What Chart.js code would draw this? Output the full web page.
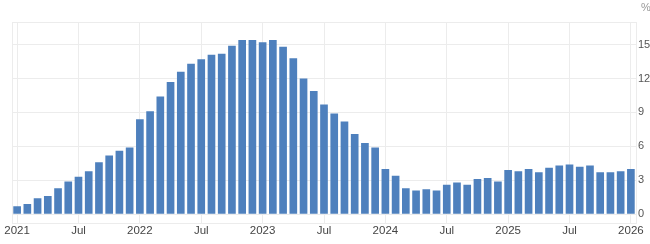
<!DOCTYPE html>
<html>
<head>
<meta charset="utf-8">
<script src="https://cdn.jsdelivr.net/npm/chart.js@4.4.1/dist/chart.umd.min.js"></script>
<style>
  html, body { margin: 0; padding: 0; background: #fff; }
  #wrap { width: 650px; height: 244px; }
</style>
</head>
<body>
<div id="wrap"><canvas id="chart"></canvas></div>
<script>
const months = [
    "2021-01","2021-02","2021-03","2021-04","2021-05","2021-06","2021-07","2021-08","2021-09","2021-10","2021-11","2021-12",
    "2022-01","2022-02","2022-03","2022-04","2022-05","2022-06","2022-07","2022-08","2022-09","2022-10","2022-11","2022-12",
    "2023-01","2023-02","2023-03","2023-04","2023-05","2023-06","2023-07","2023-08","2023-09","2023-10","2023-11","2023-12",
    "2024-01","2024-02","2024-03","2024-04","2024-05","2024-06","2024-07","2024-08","2024-09","2024-10","2024-11","2024-12",
    "2025-01","2025-02","2025-03","2025-04","2025-05","2025-06","2025-07","2025-08","2025-09","2025-10","2025-11","2025-12",
    "2026-01"
];
const rates = [
    0.7, 0.9, 1.4, 1.6, 2.3, 2.9, 3.3, 3.8, 4.6, 5.2, 5.6, 5.9,
    8.4, 9.1, 10.4, 11.7, 12.6, 13.3, 13.7, 14.1, 14.2, 14.9, 15.4, 15.4,
    15.2, 15.4, 14.8, 13.8, 12.0, 10.9, 9.7, 8.9, 8.2, 7.1, 6.3, 5.9,
    4.0, 3.4, 2.3, 2.1, 2.2, 2.1, 2.6, 2.8, 2.6, 3.1, 3.2, 2.9,
    3.9, 3.8, 4.0, 3.7, 4.1, 4.3, 4.4, 4.2, 4.3, 3.7, 3.7, 3.8,
    4.0
];
const yTicks = [0, 3, 6, 9, 12, 15];

const frame = {
    id: "frame",
    beforeDatasetsDraw(chart) {
        const { ctx, chartArea: a } = chart;
        ctx.save();
        ctx.strokeStyle = "#ececec";
        ctx.lineWidth = 1;
        ctx.strokeRect(Math.round(a.left) + 0.5, Math.round(a.top) + 0.5,
            Math.round(a.right - a.left), Math.round(a.bottom - a.top));
        ctx.restore();
    },
    afterDraw(chart) {
        const ctx = chart.ctx;
        ctx.save();
        ctx.fillStyle = "#999";
        ctx.font = "11px 'Liberation Sans', Arial, sans-serif";
        ctx.textBaseline = "middle";
        ctx.fillText("%", 641, 8);
        ctx.restore();
    }
};

function tickLabel(i) {
    const [y, m] = months[i].split("-");
    if (m === "01") return y;
    if (m === "07") return "Jul";
    return "";
}

const chart = new Chart(document.getElementById("chart"), {
    type: "bar",
    data: {
        labels: months,
        datasets: [{
            data: rates,
            backgroundColor: "#4e80bd",
            categoryPercentage: 1,
            barPercentage: 0.75,
        }]
    },
    plugins: [frame],
    options: {
        responsive: true,
        maintainAspectRatio: false,
        animation: false,
        layout: { padding: { left: 12, top: 22, right: 0, bottom: 5 } },
        plugins: {
            legend: { display: false },
            tooltip: { enabled: false }
        },
        scales: {
            x: {
                offset: true,
                grid: {
                    offset: false,
                    drawTicks: false,
                    color: (c) => (c.tick && tickLabel(c.index) !== "") ? "#ececec" : "rgba(0,0,0,0)"
                },
                border: { display: false },
                ticks: {
                    autoSkip: false,
                    maxRotation: 0,
                    padding: 1,
                    color: "#444",
                    font: { family: "'Liberation Sans', Arial, sans-serif", size: 11.5 },
                    callback: (v, i) => tickLabel(i)
                }
            },
            y: {
                position: "right",
                min: -0.8,
                max: 17,
                afterBuildTicks: (s) => { s.ticks = yTicks.map(v => ({ value: v })); },
                afterFit: (s) => { s.width = 14; },
                grid: { drawTicks: false, color: "#ececec" },
                border: { display: false },
                ticks: {
                    padding: 2,
                    color: "#555",
                    font: { family: "'Liberation Sans', Arial, sans-serif", size: 11 }
                }
            }
        }
    }
});
</script>
</body>
</html>
